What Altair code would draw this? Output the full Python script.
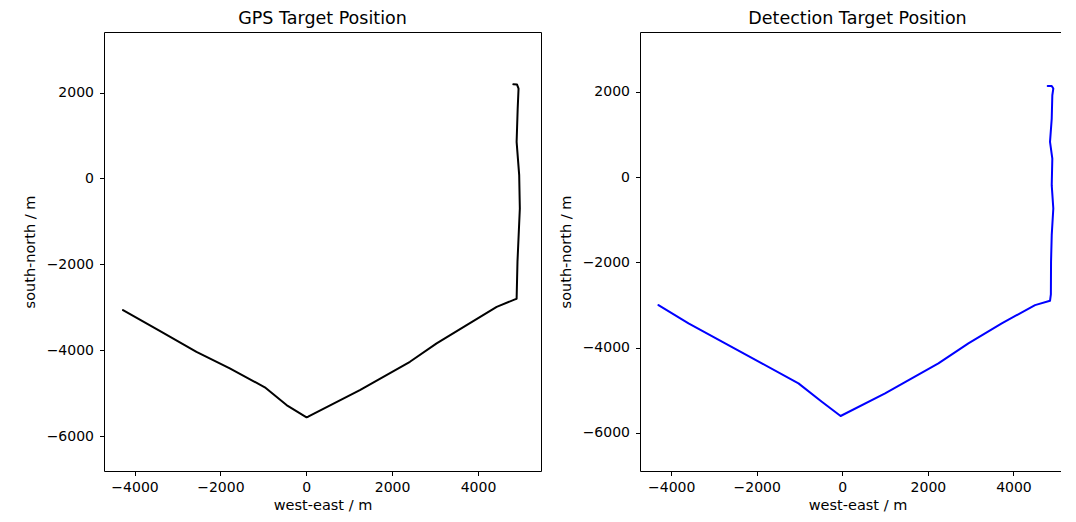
import altair as alt
import pandas as pd

# GPS target path (west-east, south-north in metres)
gps_x = [-4268, -3413, -2557, -1781, -965, -459, 7, 44, 1249, 2415, 3037, 3736,
         4436, 4862, 4900, 4920, 4975, 4960, 4900, 4925, 4945, 4910, 4823]
gps_y = [-3063, -3544, -4033, -4419, -4860, -5272, -5558, -5544, -4923, -4265,
         -3837, -3412, -2986, -2814, -2800, -1940, -700, 77, 851, 1628, 2093,
         2186, 2193]

# Detection target path
det_x = [-4297, -3595, -2738, -1881, -1025, -479, -40, 1000, 2246, 2947, 3727,
         4505, 4855, 4875, 4879, 4895, 4932, 4895, 4909, 4855, 4895, 4909, 4932,
         4895, 4801]
det_y = [-3003, -3432, -3902, -4371, -4840, -5271, -5606, -5075, -4371, -3902,
         -3432, -3003, -2901, -2750, -1986, -1361, -735, -188, 438, 829, 1376,
         1923, 2080, 2141, 2141]

x_ticks = [-4000, -2000, 0, 2000, 4000]
y_ticks = [-6000, -4000, -2000, 0, 2000]

FONT = "DejaVu Sans"


def panel(xs, ys, color, title, xdom, ydom, w):
    df = pd.DataFrame({"x": xs, "y": ys, "i": list(range(len(xs)))})
    return (
        alt.Chart(df, title=alt.TitleParams(title, frame="group", fontSize=17.5,
                                            font=FONT, fontWeight="normal",
                                            color="black", offset=5))
        .mark_line(color=color, strokeWidth=2, strokeJoin="round", strokeCap="round")
        .encode(
            x=alt.X("x:Q", title="west-east / m",
                    scale=alt.Scale(domain=xdom, nice=False, zero=False),
                    axis=alt.Axis(values=x_ticks, format="d")),
            y=alt.Y("y:Q", title="south-north / m",
                    scale=alt.Scale(domain=ydom, nice=False, zero=False),
                    axis=alt.Axis(values=y_ticks, format="d")),
            order="i:Q",
        )
        .properties(width=w, height=439)
    )


left = panel(gps_x, gps_y, "#000000", "GPS Target Position",
             [-4711, 5468], [-6807, 3409], 437)
right = panel(det_x, det_y, "#0000ff", "Detection Target Position",
              [-4729, 5439], [-6897, 3408], 435)

chart = (
    alt.hconcat(left, right, spacing=15)
    .properties(padding={"left": 13, "top": 1, "right": -15, "bottom": 0})
    .configure_view(stroke="black", strokeWidth=1)
    .configure_axis(
        grid=False, domain=False, tickColor="black", tickSize=4.5, tickWidth=1,
        labelFont=FONT, labelFontSize=14, labelColor="black",
        titleFont=FONT, titleFontSize=14.5, titleColor="black",
        titleFontWeight="normal",
    )
    .configure_axisY(labelPadding=6, titlePadding=9)
    .configure_axisX(labelPadding=5, titlePadding=4)
)

chart.save("out.html", embed_options={"renderer": "svg", "actions": False})
